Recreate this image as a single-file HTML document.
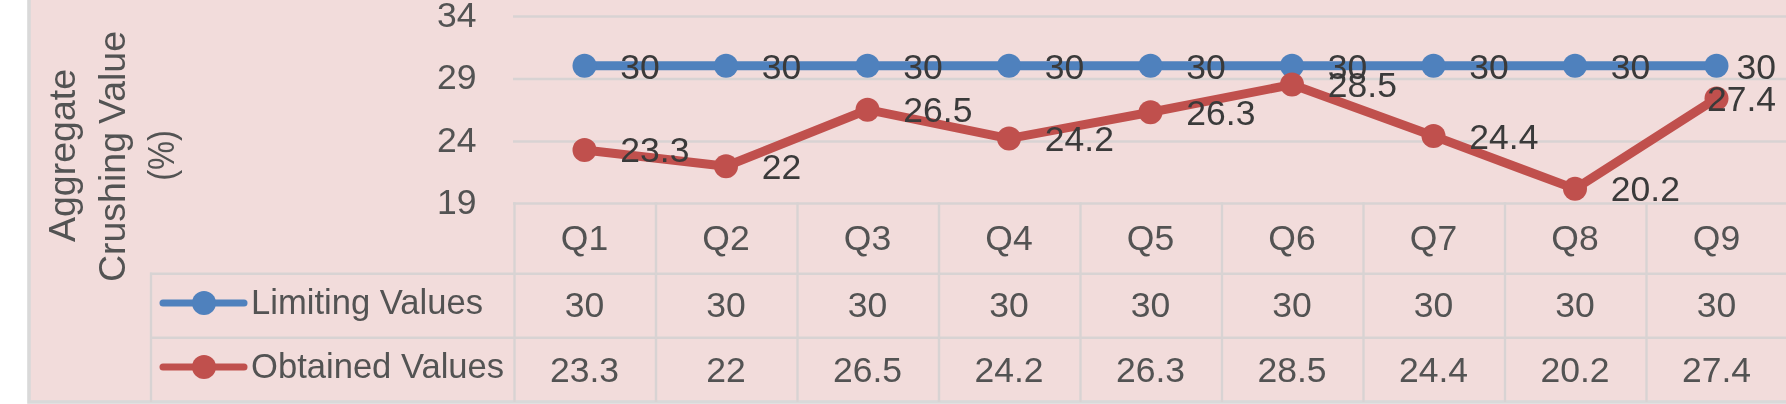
<!DOCTYPE html>
<html><head><meta charset="utf-8"><style>
html,body{margin:0;padding:0;background:#fff;overflow:hidden;}
svg{display:block;font-family:"Liberation Sans",sans-serif;will-change:transform;}
</style></head><body>
<svg width="1786" height="404" viewBox="0 0 1786 404">
<rect x="0" y="0" width="1786" height="404" fill="#FFFFFF"/>
<rect x="29" y="-10" width="1800" height="412" fill="#F2DCDB" stroke="#D9D9D9" stroke-width="3.6"/>
<line x1="513" y1="16.5" x2="1786" y2="16.5" stroke="#D8D3D3" stroke-width="2.4"/>
<line x1="513" y1="79.0" x2="1786" y2="79.0" stroke="#D8D3D3" stroke-width="2.4"/>
<line x1="513" y1="141.5" x2="1786" y2="141.5" stroke="#D8D3D3" stroke-width="2.4"/>
<line x1="513" y1="203.5" x2="1786" y2="203.5" stroke="#D8D3D3" stroke-width="2.4"/>
<line x1="150" y1="273.8" x2="1786" y2="273.8" stroke="#D8D3D3" stroke-width="2.4"/>
<line x1="150" y1="337.8" x2="1786" y2="337.8" stroke="#D8D3D3" stroke-width="2.4"/>
<line x1="151" y1="272.6" x2="151" y2="402" stroke="#D8D3D3" stroke-width="2.4"/>
<line x1="514.5" y1="202.3" x2="514.5" y2="402" stroke="#D8D3D3" stroke-width="2.4"/>
<line x1="656.0" y1="202.3" x2="656.0" y2="402" stroke="#D8D3D3" stroke-width="2.4"/>
<line x1="797.5" y1="202.3" x2="797.5" y2="402" stroke="#D8D3D3" stroke-width="2.4"/>
<line x1="939.0" y1="202.3" x2="939.0" y2="402" stroke="#D8D3D3" stroke-width="2.4"/>
<line x1="1080.5" y1="202.3" x2="1080.5" y2="402" stroke="#D8D3D3" stroke-width="2.4"/>
<line x1="1222.0" y1="202.3" x2="1222.0" y2="402" stroke="#D8D3D3" stroke-width="2.4"/>
<line x1="1363.5" y1="202.3" x2="1363.5" y2="402" stroke="#D8D3D3" stroke-width="2.4"/>
<line x1="1505.0" y1="202.3" x2="1505.0" y2="402" stroke="#D8D3D3" stroke-width="2.4"/>
<line x1="1646.5" y1="202.3" x2="1646.5" y2="402" stroke="#D8D3D3" stroke-width="2.4"/>
<line x1="1788.0" y1="202.3" x2="1788.0" y2="402" stroke="#D8D3D3" stroke-width="2.4"/>
<text x="476.5" y="26.5" text-anchor="end" font-size="35.5" fill="#535353">34</text>
<text x="476.5" y="89.0" text-anchor="end" font-size="35.5" fill="#535353">29</text>
<text x="476.5" y="151.5" text-anchor="end" font-size="35.5" fill="#535353">24</text>
<text x="476.5" y="214.0" text-anchor="end" font-size="35.5" fill="#535353">19</text>
<text transform="translate(75,155.5) rotate(-90) scale(1,1)" x="0" y="0" text-anchor="middle" font-size="37.5" fill="#535353">Aggregate</text>
<text transform="translate(125.3,156.5) rotate(-90) scale(1,1)" x="0" y="0" text-anchor="middle" font-size="37.5" fill="#535353" word-spacing="-2.5">Crushing Value</text>
<text transform="translate(173.6,155.5) rotate(-90) scale(0.87,1)" x="0" y="0" text-anchor="middle" font-size="37.5" fill="#535353">(%)</text>
<polyline points="584.5,65.72 726.0,65.72 867.5,65.72 1009.0,65.72 1150.5,65.72 1292.0,65.72 1433.5,65.72 1575.0,65.72 1716.5,65.72" fill="none" stroke="#4F81BD" stroke-width="9" stroke-linejoin="round" stroke-linecap="round"/>
<circle cx="584.5" cy="65.72" r="12" fill="#4F81BD"/>
<circle cx="726.0" cy="65.72" r="12" fill="#4F81BD"/>
<circle cx="867.5" cy="65.72" r="12" fill="#4F81BD"/>
<circle cx="1009.0" cy="65.72" r="12" fill="#4F81BD"/>
<circle cx="1150.5" cy="65.72" r="12" fill="#4F81BD"/>
<circle cx="1292.0" cy="65.72" r="12" fill="#4F81BD"/>
<circle cx="1433.5" cy="65.72" r="12" fill="#4F81BD"/>
<circle cx="1575.0" cy="65.72" r="12" fill="#4F81BD"/>
<circle cx="1716.5" cy="65.72" r="12" fill="#4F81BD"/>
<polyline points="584.5,149.91 726.0,166.25 867.5,109.70 1009.0,138.60 1150.5,112.21 1292.0,84.57 1433.5,136.09 1575.0,188.87 1716.5,98.39" fill="none" stroke="#C0504D" stroke-width="9" stroke-linejoin="round" stroke-linecap="round"/>
<circle cx="584.5" cy="149.91" r="12" fill="#C0504D"/>
<circle cx="726.0" cy="166.25" r="12" fill="#C0504D"/>
<circle cx="867.5" cy="109.70" r="12" fill="#C0504D"/>
<circle cx="1009.0" cy="138.60" r="12" fill="#C0504D"/>
<circle cx="1150.5" cy="112.21" r="12" fill="#C0504D"/>
<circle cx="1292.0" cy="84.57" r="12" fill="#C0504D"/>
<circle cx="1433.5" cy="136.09" r="12" fill="#C0504D"/>
<circle cx="1575.0" cy="188.87" r="12" fill="#C0504D"/>
<circle cx="1716.5" cy="98.39" r="12" fill="#C0504D"/>
<text x="620.3" y="78.5" font-size="35.5" fill="#3A3A3A">30</text>
<text x="761.8" y="78.5" font-size="35.5" fill="#3A3A3A">30</text>
<text x="903.3" y="78.5" font-size="35.5" fill="#3A3A3A">30</text>
<text x="1044.8" y="78.5" font-size="35.5" fill="#3A3A3A">30</text>
<text x="1186.3" y="78.5" font-size="35.5" fill="#3A3A3A">30</text>
<text x="1327.8" y="78.5" font-size="35.5" fill="#3A3A3A">30</text>
<text x="1469.3" y="78.5" font-size="35.5" fill="#3A3A3A">30</text>
<text x="1610.8" y="78.5" font-size="35.5" fill="#3A3A3A">30</text>
<text x="1776" y="78.5" text-anchor="end" font-size="35.5" fill="#3A3A3A">30</text>
<text x="620.3" y="162.25" font-size="35.5" fill="#3A3A3A">23.3</text>
<text x="761.8" y="178.5" font-size="35.5" fill="#3A3A3A">22</text>
<text x="903.3" y="122.25" font-size="35.5" fill="#3A3A3A">26.5</text>
<text x="1044.8" y="151.0" font-size="35.5" fill="#3A3A3A">24.2</text>
<text x="1186.3" y="124.74999999999999" font-size="35.5" fill="#3A3A3A">26.3</text>
<text x="1327.8" y="97.25" font-size="35.5" fill="#3A3A3A">28.5</text>
<text x="1469.3" y="148.5" font-size="35.5" fill="#3A3A3A">24.4</text>
<text x="1610.8" y="201.0" font-size="35.5" fill="#3A3A3A">20.2</text>
<text x="1776" y="111.00000000000001" text-anchor="end" font-size="35.5" fill="#3A3A3A">27.4</text>
<text x="584.5" y="250" text-anchor="middle" font-size="35.5" fill="#535353">Q1</text>
<text x="584.5" y="317" text-anchor="middle" font-size="35.5" fill="#535353">30</text>
<text x="584.5" y="382" text-anchor="middle" font-size="35.5" fill="#535353">23.3</text>
<text x="726.0" y="250" text-anchor="middle" font-size="35.5" fill="#535353">Q2</text>
<text x="726.0" y="317" text-anchor="middle" font-size="35.5" fill="#535353">30</text>
<text x="726.0" y="382" text-anchor="middle" font-size="35.5" fill="#535353">22</text>
<text x="867.5" y="250" text-anchor="middle" font-size="35.5" fill="#535353">Q3</text>
<text x="867.5" y="317" text-anchor="middle" font-size="35.5" fill="#535353">30</text>
<text x="867.5" y="382" text-anchor="middle" font-size="35.5" fill="#535353">26.5</text>
<text x="1009.0" y="250" text-anchor="middle" font-size="35.5" fill="#535353">Q4</text>
<text x="1009.0" y="317" text-anchor="middle" font-size="35.5" fill="#535353">30</text>
<text x="1009.0" y="382" text-anchor="middle" font-size="35.5" fill="#535353">24.2</text>
<text x="1150.5" y="250" text-anchor="middle" font-size="35.5" fill="#535353">Q5</text>
<text x="1150.5" y="317" text-anchor="middle" font-size="35.5" fill="#535353">30</text>
<text x="1150.5" y="382" text-anchor="middle" font-size="35.5" fill="#535353">26.3</text>
<text x="1292.0" y="250" text-anchor="middle" font-size="35.5" fill="#535353">Q6</text>
<text x="1292.0" y="317" text-anchor="middle" font-size="35.5" fill="#535353">30</text>
<text x="1292.0" y="382" text-anchor="middle" font-size="35.5" fill="#535353">28.5</text>
<text x="1433.5" y="250" text-anchor="middle" font-size="35.5" fill="#535353">Q7</text>
<text x="1433.5" y="317" text-anchor="middle" font-size="35.5" fill="#535353">30</text>
<text x="1433.5" y="382" text-anchor="middle" font-size="35.5" fill="#535353">24.4</text>
<text x="1575.0" y="250" text-anchor="middle" font-size="35.5" fill="#535353">Q8</text>
<text x="1575.0" y="317" text-anchor="middle" font-size="35.5" fill="#535353">30</text>
<text x="1575.0" y="382" text-anchor="middle" font-size="35.5" fill="#535353">20.2</text>
<text x="1716.5" y="250" text-anchor="middle" font-size="35.5" fill="#535353">Q9</text>
<text x="1716.5" y="317" text-anchor="middle" font-size="35.5" fill="#535353">30</text>
<text x="1716.5" y="382" text-anchor="middle" font-size="35.5" fill="#535353">27.4</text>
<line x1="163" y1="303" x2="244" y2="303" stroke="#4F81BD" stroke-width="7" stroke-linecap="round"/>
<circle cx="204" cy="303" r="12" fill="#4F81BD"/>
<text x="251" y="314" font-size="34.6" fill="#535353">Limiting Values</text>
<line x1="163" y1="367" x2="244" y2="367" stroke="#C0504D" stroke-width="7" stroke-linecap="round"/>
<circle cx="204" cy="367" r="12" fill="#C0504D"/>
<text x="251" y="378" font-size="34.6" fill="#535353">Obtained Values</text>
</svg>
</body></html>
